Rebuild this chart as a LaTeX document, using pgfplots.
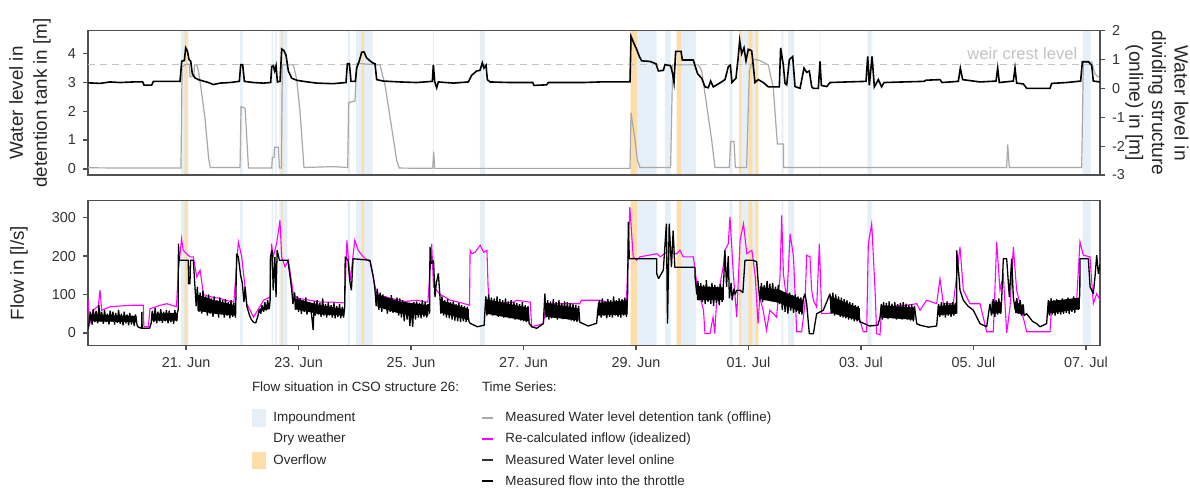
\documentclass[border=0pt]{standalone}
\usepackage{fontspec}
\setmainfont{Liberation Sans}
\usepackage{pgfplots}
\usepackage{pgfplotstable}
\pgfplotsset{compat=1.18}

\definecolor{impblue}{RGB}{228,239,248}
\definecolor{ovorange}{RGB}{253,221,168}
\definecolor{tankgray}{RGB}{168,168,168}
\definecolor{framegray}{RGB}{80,80,80}
\definecolor{weirgray}{RGB}{195,195,195}
\definecolor{inflowmag}{RGB}{255,0,255}

% flow situation bands (const plot, 1 = active)
\pgfplotstableread{
x y
19.2 0
20.911 1
21.041 0
21.96 1
22.008 0
22.523 1
22.552 0
22.582 1
22.612 0
22.658 1
22.8 0
23.874 1
23.915 0
24.022 1
24.319 0
25.39 1
25.405 0
26.226 1
26.315 0
29.023 1
29.368 0
29.515 1
29.616 0
29.8 1
30.066 0
30.659 1
30.712 0
30.879 1
30.996 0
31.067 1
31.133 0
31.59 1
31.618 0
31.702 1
31.809 0
32.265 1
32.278 0
33.112 1
33.19 0
36.941 1
37.083 0
37.3 0
}\impband

\pgfplotstableread{
x y
19.2 0
20.977 1
21.023 0
22.689 1
22.719 0
24.123 1
24.164 0
28.906 1
29.023 0
29.723 1
29.8 0
30.831 1
30.879 0
30.996 1
31.067 0
31.133 1
31.174 0
37.3 0
}\ovband

% water level detention tank (offline), left axis [m]
\pgfplotstableread{
x y
19.25 0.04
20.06 0.03
20.91 0.03
20.93 3.55
21.01 3.62
21.06 3.62
21.07 3.2
21.14 3.2
21.15 3.6
21.19 3.6
21.22 3.4
21.28 2.6
21.34 1.7
21.40 0.4
21.43 0.05
21.96 0.05
21.978 2.15
22.05 2.1
22.11 0.03
22.523 0.03
22.535 0.4
22.564 0.4
22.576 0.75
22.641 0.75
22.659 0.03
22.695 0.03
22.712 3.6
22.908 3.6
22.967 3.1
23.026 2.0
23.097 0.05
23.62 0.08
23.874 0.05
23.892 2.3
24.004 2.35
24.034 3.65
24.449 3.6
24.538 2.9
24.626 1.8
24.745 0.3
24.79 0.03
25.385 0.02
25.403 0.6
25.42 0.02
28.893 0.02
28.911 1.95
28.952 1.4
28.982 1.0
29.023 0.3
29.071 0.05
29.615 0.05
29.651 3.6
30.107 3.6
30.167 3.4
30.256 2.2
30.345 1.0
30.404 0.05
30.659 0.05
30.683 0.95
30.742 0.95
30.766 0.05
30.966 0.05
31.015 3.4
31.086 3.8
31.204 3.75
31.352 3.6
31.441 2.8
31.47 2.0
31.513 0.86
31.62 0.86
31.625 0.05
35.59 0.05
35.607 0.85
35.637 0.05
36.923 0.05
36.953 3.7
37.101 3.7
37.16 3.3
37.201 3.2
37.25 3.2
}\tank

% water level dividing structure (online), right axis [m]
\pgfplotstableread{
x y
19.252 0.19
19.471 0.17
19.649 0.22
19.826 0.20
20.063 0.22
20.229 0.22
20.253 0.11
20.389 0.11
20.419 0.24
20.656 0.24
20.893 0.24
20.923 0.94
20.97 0.96
20.994 1.40
21.023 1.30
21.053 1.00
21.083 0.94
21.112 0.50
21.16 0.36
21.219 0.30
21.308 0.25
21.397 0.20
21.486 0.13
21.604 0.18
21.782 0.20
21.948 0.24
21.972 0.82
22.007 0.82
22.037 0.24
22.197 0.20
22.375 0.18
22.505 0.20
22.523 0.75
22.552 0.78
22.576 0.60
22.60 0.78
22.624 0.22
22.671 0.24
22.701 1.36
22.742 1.30
22.777 1.15
22.819 0.60
22.878 0.35
22.967 0.28
23.086 0.24
23.323 0.18
23.619 0.16
23.844 0.20
23.868 0.85
23.904 0.85
23.933 0.24
24.01 0.24
24.034 0.70
24.081 0.95
24.123 1.25
24.164 1.26
24.211 1.05
24.271 0.95
24.318 0.88
24.36 0.85
24.389 0.30
24.508 0.25
24.804 0.22
25.1 0.20
25.379 0.24
25.397 0.82
25.42 0.24
25.456 0.02
25.486 0.22
25.752 0.18
26.019 0.22
26.078 0.45
26.167 0.60
26.226 0.62
26.268 0.88
26.297 0.70
26.333 0.80
26.357 0.30
26.404 0.22
26.76 0.20
27.163 0.20
27.186 0.10
27.411 0.12
27.441 0.20
28.063 0.20
28.36 0.22
28.893 0.22
28.911 1.80
28.952 1.60
29.011 1.35
29.059 1.10
29.10 0.95
29.248 0.93
29.355 0.85
29.397 0.60
29.486 0.62
29.515 0.82
29.615 0.78
29.651 0.50
29.675 0.20
29.705 1.28
29.80 1.28
29.823 0.98
30.019 0.98
30.054 0.75
30.096 0.50
30.167 0.35
30.226 0.05
30.285 0.02
30.327 0.25
30.374 0.05
30.463 0.15
30.582 0.30
30.641 0.75
30.677 0.80
30.706 0.20
30.777 0.35
30.813 1.00
30.843 1.65
30.878 1.20
30.92 1.40
30.955 0.95
30.997 1.35
31.056 1.30
31.086 0.75
31.115 0.20
31.174 0.30
31.263 0.20
31.352 0.05
31.548 0.05
31.571 1.40
31.619 0.80
31.649 0.17
31.679 0.12
31.726 0.99
31.785 1.10
31.827 0.06
31.916 0.00
31.987 0.70
32.034 0.55
32.081 0.60
32.123 0.06
32.153 0.00
32.241 0.00
32.271 0.93
32.295 0.10
32.39 0.06
32.449 0.20
32.745 0.22
33.089 0.24
33.119 1.10
33.148 0.10
33.196 1.10
33.237 0.05
33.308 0.30
33.367 0.05
33.409 0.20
33.753 0.22
34.12 0.24
34.156 0.28
34.404 0.30
34.44 0.20
34.73 0.24
34.766 0.70
34.807 0.30
35.116 0.22
35.40 0.25
35.43 0.70
35.459 0.20
35.708 0.25
35.738 0.70
35.767 0.18
35.886 0.15
35.945 0.00
36.36 0.00
36.39 0.17
36.656 0.20
36.905 0.25
36.935 0.92
37.042 0.92
37.101 0.80
37.13 0.25
37.25 0.22
}\online

% re-calculated inflow (idealized) [l/s]
\pgfplotstableread{
x y
19.26 85
19.29 24
19.35 59
19.44 70
19.47 111
19.50 59
19.65 68
19.83 70
20.06 72
20.24 72
20.25 16
20.33 16
20.36 63
20.54 72
20.66 76
20.83 68
20.86 154
20.92 245
20.95 215
21.01 206
21.07 198
21.13 198
21.19 146
21.25 163
21.31 100
21.40 95
21.50 92
21.60 90
21.70 85
21.85 80
21.93 237
21.99 198
22.08 76
22.20 41
22.38 85
22.49 93
22.52 232
22.55 198
22.61 232
22.67 293
22.70 198
22.76 172
22.82 189
22.91 100
23.00 90
23.20 85
23.40 80
23.60 80
23.82 78
23.86 241
23.92 137
24.00 241
24.06 215
24.15 198
24.27 185
24.39 102
24.50 95
24.70 88
24.90 82
25.10 85
25.30 80
25.367 232
25.40 120
25.52 100
25.70 85
25.90 78
26.04 72
26.05 215
26.08 206
26.14 210
26.23 228
26.29 210
26.35 215
26.37 120
26.40 68
26.60 78
26.82 80
26.88 85
27.12 80
27.145 16
27.35 24
27.41 76
27.47 76
28.00 76
28.03 85
28.36 85
28.60 76
28.83 85
28.89 328
28.95 198
29.01 189
29.07 198
29.37 206
29.43 198
29.55 211
29.66 206
29.72 206
29.78 215
29.84 198
30.02 198
30.08 128
30.14 93
30.20 59
30.226 -2
30.315 -2
30.37 41
30.40 -2
30.43 76
30.55 172
30.58 215
30.64 232
30.67 302
30.73 154
30.79 41
30.85 241
30.91 284
30.97 206
31.06 215
31.12 146
31.17 24
31.20 93
31.26 59
31.32 7
31.38 59
31.50 41
31.56 146
31.59 306
31.62 154
31.68 85
31.74 258
31.80 198
31.856 3
31.945 3
32.004 76
32.034 202
32.093 198
32.123 111
32.153 85
32.212 67
32.259 232
32.301 50
32.39 50
32.60 55
32.80 45
32.982 33
33.041 3
33.10 3
33.13 232
33.19 284
33.22 198
33.25 111
33.278 -2
33.338 -5
33.367 67
33.456 50
33.60 70
33.80 72
33.99 76
34.049 59
34.167 85
34.345 76
34.404 141
34.464 76
34.641 76
34.76 224
34.819 111
34.938 76
35.116 76
35.234 3
35.353 3
35.412 237
35.471 111
35.53 150
35.59 0
35.649 67
35.708 224
35.767 111
35.945 3
36.36 3
36.39 76
36.60 80
36.834 85
36.893 237
36.953 202
37.071 198
37.13 76
37.19 102
37.25 85
}\inflow

% measured flow into the throttle [l/s]
\pgfplotstableread{
x y
19.26 11
19.28 30
19.30 55
19.33 22
19.35 62
19.38 28
19.40 58
19.43 25
19.45 72
19.48 30
19.50 55
19.53 24
19.55 60
19.58 28
19.60 50
19.63 22
19.65 58
19.68 30
19.70 55
19.73 22
19.75 52
19.78 26
19.80 60
19.83 24
19.85 50
19.88 20
19.90 55
19.93 25
19.95 48
19.98 20
20.00 52
20.03 22
20.05 45
20.08 18
20.10 48
20.13 20
20.15 15
20.21 12
20.215 55
20.22 12
20.35 12
20.38 25
20.40 58
20.43 28
20.45 65
20.48 25
20.50 55
20.53 30
20.55 62
20.58 26
20.60 55
20.63 30
20.65 60
20.68 25
20.70 58
20.73 28
20.75 52
20.78 24
20.80 60
20.83 30
20.85 55
20.86 60
20.865 232
20.88 189
21.04 189
21.045 128
21.07 128
21.08 189
21.13 189
21.15 140
21.18 70
21.20 120
21.23 55
21.25 105
21.28 50
21.30 110
21.33 55
21.35 95
21.38 45
21.40 100
21.43 50
21.45 90
21.48 42
21.50 95
21.53 50
21.55 85
21.58 40
21.60 92
21.63 48
21.65 85
21.68 40
21.70 88
21.73 45
21.75 80
21.78 38
21.80 85
21.83 42
21.85 78
21.88 40
21.90 206
21.93 198
21.97 150
22.00 130
22.03 80
22.05 120
22.08 70
22.10 60
22.13 45
22.16 35
22.20 28
22.24 26
22.28 45
22.30 60
22.33 50
22.35 72
22.38 55
22.40 80
22.43 58
22.45 85
22.48 62
22.495 85
22.50 198
22.53 215
22.55 111
22.58 198
22.60 93
22.62 215
22.66 189
22.81 189
22.85 146
22.88 110
22.90 75
22.93 105
22.95 60
22.98 95
23.00 55
23.03 90
23.05 50
23.08 85
23.10 55
23.13 92
23.15 48
23.18 80
23.23 50
23.26 8
23.28 82
23.30 45
23.33 85
23.35 48
23.38 78
23.40 42
23.43 90
23.45 45
23.48 75
23.50 40
23.53 80
23.55 45
23.58 72
23.60 40
23.63 78
23.65 38
23.68 70
23.70 42
23.73 75
23.75 38
23.78 68
23.80 40
23.82 65
23.83 198
23.88 189
23.91 137
23.94 111
23.97 193
24.27 189
24.33 146
24.36 110
24.38 70
24.40 115
24.43 60
24.45 105
24.48 55
24.50 100
24.53 62
24.55 95
24.58 50
24.60 90
24.63 55
24.65 98
24.68 52
24.70 85
24.73 55
24.75 92
24.78 45
24.80 90
24.83 40
24.85 85
24.88 30
24.90 80
24.93 35
24.95 75
24.98 18
25.00 70
25.03 16
25.05 80
25.08 35
25.10 82
25.13 40
25.15 78
25.18 38
25.20 85
25.23 42
25.25 80
25.28 40
25.30 75
25.33 50
25.337 224
25.36 180
25.40 189
25.426 93
25.45 130
25.486 155
25.515 93
25.53 50
25.55 95
25.58 45
25.60 85
25.63 40
25.65 88
25.68 38
25.70 80
25.73 35
25.75 82
25.78 32
25.80 75
25.83 30
25.85 78
25.88 28
25.90 72
25.93 30
25.95 70
25.98 28
26.00 68
26.03 30
26.05 25
26.18 16
26.30 20
26.315 60
26.33 95
26.35 45
26.38 100
26.40 50
26.43 92
26.45 45
26.48 90
26.50 48
26.53 95
26.55 42
26.58 88
26.60 45
26.63 85
26.65 40
26.68 90
26.70 42
26.73 82
26.75 38
26.78 85
26.80 40
26.83 80
26.85 35
26.88 78
26.90 38
26.93 75
26.95 32
26.98 80
27.00 30
27.03 72
27.05 28
27.08 70
27.10 25
27.145 16
27.234 12
27.352 24
27.38 102
27.40 40
27.43 85
27.45 35
27.48 82
27.50 38
27.53 88
27.55 40
27.58 80
27.60 35
27.63 85
27.65 40
27.68 78
27.70 36
27.73 82
27.75 38
27.78 80
27.80 35
27.83 78
27.85 32
27.88 75
27.90 30
27.93 72
27.95 28
27.98 70
28.00 28
28.15 18
28.30 25
28.32 60
28.35 85
28.38 40
28.40 90
28.43 45
28.45 82
28.48 38
28.50 88
28.53 42
28.55 85
28.58 40
28.60 95
28.63 45
28.65 85
28.68 42
28.70 90
28.73 40
28.75 88
28.78 45
28.80 92
28.83 42
28.85 95
28.863 289
28.881 193
29.367 193
29.37 154
29.40 141
29.485 163
29.54 284
29.56 24
29.59 284
29.63 171
29.66 266
29.69 171
30.048 171
30.05 146
30.08 100
30.10 135
30.13 85
30.15 130
30.18 80
30.20 125
30.23 75
30.25 137
30.28 80
30.30 120
30.33 75
30.35 130
30.38 70
30.40 125
30.43 78
30.45 120
30.48 72
30.50 128
30.53 80
30.56 140
30.58 215
30.61 120
30.64 200
30.66 90
30.69 130
30.71 85
30.74 115
30.76 100
30.79 111
30.85 111
30.90 105
30.937 189
31.086 189
31.145 185
31.174 128
31.20 85
31.23 130
31.25 80
31.28 125
31.30 85
31.33 135
31.35 90
31.38 128
31.40 82
31.43 130
31.45 85
31.48 120
31.50 80
31.53 125
31.55 75
31.58 110
31.60 60
31.63 105
31.65 55
31.68 100
31.70 50
31.73 105
31.75 58
31.78 98
31.80 52
31.83 100
31.85 55
31.88 95
31.90 50
31.93 92
31.95 48
31.975 90
32.004 102
32.034 76
32.081 -2
32.153 -2
32.182 24
32.212 50
32.33 59
32.449 102
32.47 50
32.50 105
32.53 45
32.55 100
32.58 48
32.60 95
32.63 42
32.65 92
32.68 40
32.70 88
32.73 38
32.75 85
32.78 35
32.80 80
32.83 35
32.85 78
32.88 30
32.90 72
32.93 30
32.95 70
32.98 28
33.00 28
33.15 18
33.30 20
33.338 40
33.36 75
33.38 35
33.40 80
33.43 40
33.45 78
33.48 36
33.50 82
33.53 40
33.55 76
33.58 38
33.60 80
33.63 35
33.65 75
33.68 38
33.70 78
33.73 35
33.75 80
33.78 38
33.80 76
33.83 35
33.85 72
33.88 32
33.90 75
33.93 30
33.95 70
33.99 24
34.05 20
34.20 15
34.345 18
34.36 45
34.38 75
34.40 42
34.43 80
34.45 45
34.48 78
34.50 40
34.53 82
34.55 45
34.58 76
34.60 42
34.63 80
34.65 45
34.68 78
34.70 50
34.701 215
34.74 150
34.76 111
34.819 85
34.90 70
34.997 59
35.116 24
35.234 16
35.293 76
35.32 45
35.35 88
35.38 42
35.40 85
35.43 48
35.45 90
35.48 50
35.50 85
35.53 193
35.59 193
35.637 93
35.679 193
35.708 93
35.74 60
35.77 90
35.80 50
35.83 85
35.85 45
35.88 75
35.90 45
35.945 50
36.05 30
36.123 24
36.182 16
36.30 24
36.33 85
36.35 45
36.38 90
36.40 48
36.43 85
36.45 45
36.48 88
36.50 50
36.53 82
36.55 48
36.58 90
36.60 50
36.63 85
36.65 52
36.68 92
36.70 50
36.73 88
36.75 55
36.78 95
36.80 52
36.83 90
36.86 60
36.89 100
36.893 193
37.042 193
37.072 120
37.13 102
37.16 146
37.19 202
37.22 154
37.25 180
}\throttle

\pgfplotsset{
  panel/.style={
    scale only axis, width=506pt, height=72.25pt,
    xmin=19.257, xmax=37.249, anchor=north west,
    axis line style={framegray, line width=0.7pt},
    tick style={framegray, line width=0.6pt},
    tick align=outside, major tick length=2.5pt,
    tick label style={font=\fontsize{7.2}{8}\selectfont, text=black!80},
    /pgf/number format/assume math mode=true,
  },
  bands/.style={panel, hide axis, ymin=0, ymax=1},
  noise/.style={fill=black, draw=none, forget plot},
}

\begin{document}
\begin{tikzpicture}
\useasboundingbox (0,0) rectangle (595pt,-244.5pt);

% ---------- top panel ----------
\begin{axis}[bands, at={(44pt,-15.25pt)}]
  \addplot[const plot, fill=impblue, draw=none] table {\impband} \closedcycle;
  \addplot[const plot, fill=ovorange, draw=none] table {\ovband} \closedcycle;
\end{axis}

\begin{axis}[panel, at={(44pt,-15.25pt)},
  ymin=-0.21, ymax=4.79, ytick={0,1,2,3,4}, xtick=\empty, ytick pos=left]
  \addplot[weirgray, line width=0.6pt, dash pattern=on 3.5pt off 2.5pt] coordinates {(19.257,3.62) (37.249,3.62)};
  \node[anchor=east, text=weirgray, font=\fontsize{8.3}{9}\selectfont] at (axis cs:36.97,4.0) {weir crest level};
  \addplot[tankgray, line width=0.6pt] table {\tank};
\end{axis}

\begin{axis}[panel, at={(44pt,-15.25pt)},
  axis x line=none, axis y line*=right,
  ymin=-3, ymax=2, ytick={-3,-2,-1,0,1,2},
  yticklabels={-3,-2,-1,0,1,2}]
  \addplot[black, line width=0.8pt] table {\online};
\end{axis}

% ---------- bottom panel ----------
\begin{axis}[bands, at={(44pt,-100.35pt)}]
  \addplot[const plot, fill=impblue, draw=none] table {\impband} \closedcycle;
  \addplot[const plot, fill=ovorange, draw=none] table {\ovband} \closedcycle;
\end{axis}

\begin{axis}[panel, at={(44pt,-100.35pt)},
  ymin=-32, ymax=344, ytick={0,100,200,300}, ytick pos=left, xtick pos=bottom,
  xtick={21,23,25,27,29,31,33,35,37},
  xticklabels={21. Jun,23. Jun,25. Jun,27. Jun,29. Jun,01. Jul,03. Jul,05. Jul,07. Jul}]
  \addplot[inflowmag, line width=0.55pt] table {\inflow};
  % dense core of the noisy throttle-flow record (inner envelope)
  \addplot[noise] coordinates {(19.30,30) (20.12,28) (20.12,44) (19.30,48)};
  \addplot[noise] coordinates {(20.38,32) (20.85,32) (20.85,52) (20.38,50)};
  \addplot[noise] coordinates {(21.20,58) (21.50,50) (21.87,45) (21.87,72) (21.50,85) (21.20,100)};
  \addplot[noise] coordinates {(22.30,56) (22.48,62) (22.48,74) (22.30,62)};
  \addplot[noise] coordinates {(22.93,62) (23.40,48) (23.81,45) (23.81,62) (23.40,72) (22.93,90)};
  \addplot[noise] coordinates {(24.40,68) (24.80,50) (25.31,45) (25.31,72) (24.80,82) (24.40,100)};
  \addplot[noise] coordinates {(25.53,52) (26.03,33) (26.03,62) (25.53,85)};
  \addplot[noise] coordinates {(26.33,50) (27.10,30) (27.10,65) (26.33,88)};
  \addplot[noise] coordinates {(27.40,42) (27.98,32) (27.98,64) (27.40,78)};
  \addplot[noise] coordinates {(28.32,45) (28.85,48) (28.85,85) (28.32,78)};
  \addplot[noise] coordinates {(30.08,85) (30.56,85) (30.56,118) (30.08,122)};
  \addplot[noise] coordinates {(31.20,88) (31.55,78) (31.97,52) (31.97,85) (31.55,112) (31.20,120)};
  \addplot[noise] coordinates {(32.47,52) (32.98,32) (32.98,64) (32.47,95)};
  \addplot[noise] coordinates {(33.36,40) (33.95,34) (33.95,66) (33.36,72)};
  \addplot[noise] coordinates {(34.36,46) (34.70,50) (34.70,74) (34.36,70)};
  \addplot[noise] coordinates {(35.32,50) (35.50,52) (35.50,80) (35.32,82)};
  \addplot[noise] coordinates {(35.74,52) (35.90,48) (35.90,70) (35.74,82)};
  \addplot[noise] coordinates {(36.33,50) (36.89,62) (36.89,92) (36.33,82)};
  \addplot[black, line width=0.65pt, line join=bevel] table {\throttle};
\end{axis}

% ---------- axis titles ----------
\node[rotate=90, align=center, font=\fontsize{9.4}{12}\selectfont, text=black!85]
  at (15pt,-51.5pt) {Water level in\\detention tank in [m]};
\node[rotate=-90, align=center, font=\fontsize{9.6}{11.3}\selectfont, text=black!85]
  at (578.5pt,-51.5pt) {Water level in\\dividing structure\\(online) in [m]};
\node[rotate=90, font=\fontsize{9.4}{12}\selectfont, text=black!85]
  at (9.5pt,-136.5pt) {Flow in [l/s]};

% ---------- legend ----------
\begin{scope}[font=\fontsize{6.7}{8}\selectfont, text=black!85]
  \node[anchor=west, inner sep=0pt] at (125.8pt,-193.3pt) {Flow situation in CSO structure 26:};
  \fill[impblue] (126pt,-204.5pt) rectangle (133pt,-213.5pt);
  \node[anchor=west, inner sep=0pt] at (136.5pt,-208.9pt) {Impoundment};
  \node[anchor=west, inner sep=0pt] at (136.5pt,-219.5pt) {Dry weather};
  \fill[ovorange] (126pt,-226pt) rectangle (133pt,-234.5pt);
  \node[anchor=west, inner sep=0pt] at (136.5pt,-230pt) {Overflow};

  \node[anchor=west, inner sep=0pt] at (240.8pt,-193.3pt) {Time Series:};
  \draw[tankgray, line width=0.7pt] (241pt,-208.9pt) -- (246.5pt,-208.9pt);
  \node[anchor=west, inner sep=0pt] at (252.5pt,-208.9pt) {Measured Water level detention tank (offline)};
  \draw[inflowmag, line width=0.7pt] (241pt,-219.5pt) -- (246.5pt,-219.5pt);
  \node[anchor=west, inner sep=0pt] at (252.5pt,-219.5pt) {Re-calculated inflow (idealized)};
  \draw[black!80, line width=0.7pt] (241pt,-230pt) -- (246.5pt,-230pt);
  \node[anchor=west, inner sep=0pt] at (252.5pt,-230pt) {Measured Water level online};
  \draw[black, line width=0.9pt] (241pt,-240.5pt) -- (246.5pt,-240.5pt);
  \node[anchor=west, inner sep=0pt] at (252.5pt,-240.5pt) {Measured flow into the throttle};
\end{scope}
\end{tikzpicture}
\end{document}
